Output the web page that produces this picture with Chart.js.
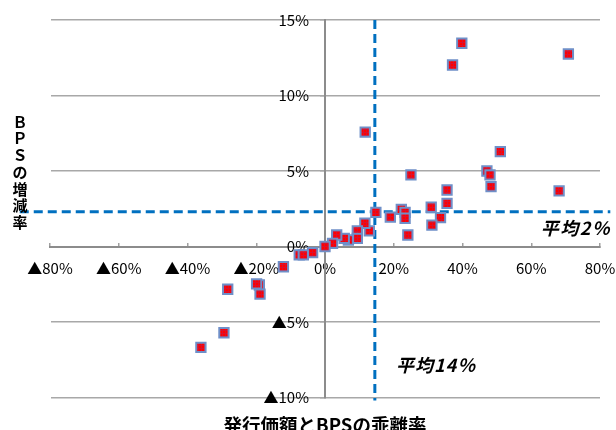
<!DOCTYPE html>
<html><head><meta charset="utf-8">
<script src="https://cdn.jsdelivr.net/npm/chart.js@4/dist/chart.umd.min.js"></script>
<style>html,body{margin:0;padding:0;background:#fff}</style>
</head><body>
<canvas id="c" width="616" height="430"></canvas>
<script>
// 発行価額とBPSの乖離率 (%)
const xValues = [70.8, 39.8, 37.1, 11.7, 51.0, 47.1, 48.0, 48.3, 25.0, 68.1,
  35.5, 35.5, 30.9, 33.6, 31.1, 24.1, 19.0, 22.2, 23.3, 23.3,
  14.8, 12.9, 11.6, 9.4, 9.4, 6.8, 5.6, 3.4, 2.2, 0.0,
  -3.6, -7.5, -6.3, -12.1, -28.3, -19.1, -19.9, -18.9, -29.4, -36.1];
// BPSの増減率 (%)
const yValues = [12.75, 13.46, 12.02, 7.58, 6.28, 5.0, 4.74, 3.96, 4.74, 3.68,
  3.74, 2.86, 2.6, 1.91, 1.42, 0.76, 1.95, 2.46, 2.26, 1.87,
  2.26, 1.03, 1.54, 1.03, 0.54, 0.43, 0.54, 0.76, 0.21, 0.0,
  -0.41, -0.56, -0.56, -1.34, -2.83, -2.55, -2.48, -3.15, -5.71, -6.68];
const xTickLabels = ['▲80%', '▲60%', '▲40%', '▲20%', '0%', '20%', '40%', '60%', '80%'];
const yTickLabels = ['▲10%', '▲5%', '0%', '5%', '10%', '15%'];
const avgX = 14.5;   // 平均14%
const avgY = 2.3;    // 平均2%
const avgXLabel = '平均14％';
const avgYLabel = '平均2％';
const yTitle = ['Ｂ', 'Ｐ', 'Ｓ', 'の', '増', '減', '率'];
const xTitle = '発行価額とBPSの乖離率';

const points = xValues.map((x, i) => ({x: x, y: yValues[i]}));

// marker fill pattern (red with fine grid)
const pc = document.createElement('canvas');
pc.width = 3; pc.height = 3;
const pctx = pc.getContext('2d');
pctx.fillStyle = '#ff0000'; pctx.fillRect(0, 0, 3, 3);
pctx.fillStyle = '#d8102e'; pctx.fillRect(0, 0, 3, 1); pctx.fillRect(0, 0, 1, 3);
const ctx = document.getElementById('c').getContext('2d');
const redPattern = ctx.createPattern(pc, 'repeat');

// put the y axis (labels, ticks, line) at x = 0 without reserving layout space
const yAxisAtZero = {
  id: 'yAxisAtZero',
  afterLayout(chart) {
    const px = chart.scales.x.getPixelForValue(0);
    const y = chart.scales.y;
    y.left = px - 90; y.right = px; y.width = 90;
  }
};

const textPlugin = {
  id: 'texts',
  afterDraw(chart) {
    const c = chart.ctx;
    const xs = chart.scales.x, ys = chart.scales.y;
    c.save();
    c.fillStyle = '#000';
    // y title (stacked)
    c.font = 'bold 15px "Noto Sans CJK JP"';
    c.textAlign = 'center';
    c.textBaseline = 'middle';
    yTitle.forEach((ch, i) => c.fillText(ch, 20, 122 + i * 16.7));
    // x title
    c.font = 'bold 18.5px "Noto Sans CJK JP"';
    c.fillText(xTitle, (xs.left + xs.right) / 2, 425);
    // averages labels
    c.font = 'italic bold 18px "Noto Sans CJK JP"';
    c.letterSpacing = '1.5px';
    c.textAlign = 'right';
    c.fillText(avgYLabel, xs.getPixelForValue(83.3), ys.getPixelForValue(1.2));
    c.letterSpacing = '1px';
    c.textAlign = 'center';
    c.fillText(avgXLabel, xs.getPixelForValue(32.3), ys.getPixelForValue(-7.85));
    c.restore();
  }
};

const tickFont = {family: '"Noto Sans CJK JP"', size: 15};

new Chart(ctx, {
  type: 'scatter',
  data: {
    datasets: [
      {
        data: points,
        pointStyle: 'rect',
        pointRadius: 6.6,
        pointBorderWidth: 2,
        backgroundColor: redPattern,
        borderColor: '#6f8fc8',
        order: 0
      },
      {
        type: 'line',
        data: [{x: -88.8, y: avgY}, {x: 83, y: avgY}],
        borderColor: '#0070c0',
        borderWidth: 3,
        borderDash: [9, 5],
        pointRadius: 0,
        clip: false,
        order: 1
      },
      {
        type: 'line',
        data: [{x: avgX, y: 15}, {x: avgX, y: -10.2}],
        borderColor: '#0070c0',
        borderWidth: 3,
        borderDash: [9, 5],
        pointRadius: 0,
        clip: false,
        order: 1
      }
    ]
  },
  options: {
    responsive: false,
    animation: false,
    layout: {padding: {left: 50, right: 16, top: 20, bottom: 32.5}},
    plugins: {legend: {display: false}, tooltip: {enabled: false}},
    scales: {
      x: {
        type: 'linear',
        position: {y: 0},
        min: -80, max: 80,
        afterFit: s => { s.height = 0; s.paddingLeft = 0; s.paddingRight = 0; },
        ticks: {
          stepSize: 20,
          padding: 18,
          maxRotation: 0,
          color: '#000',
          font: tickFont,
          callback: (v, i) => xTickLabels[i]
        },
        grid: {drawOnChartArea: false, drawTicks: true, tickLength: -5, color: '#a0a0a0', lineWidth: 1.5},
        border: {display: true, color: '#8c8c8c', width: 2}
      },
      y: {
        type: 'linear',
        position: 'left',
        min: -10, max: 15,
        afterFit: s => { s.width = 0; s.paddingTop = 0; s.paddingBottom = 0; },
        ticks: {
          stepSize: 5,
          padding: 11,
          color: '#000',
          font: tickFont,
          callback: (v, i) => yTickLabels[i]
        },
        grid: {drawTicks: true, tickLength: 5, color: '#a8a8a8', lineWidth: 1.5},
        border: {display: true, color: '#8c8c8c', width: 2}
      }
    }
  },
  plugins: [yAxisAtZero, textPlugin]
});
</script>
</body></html>
